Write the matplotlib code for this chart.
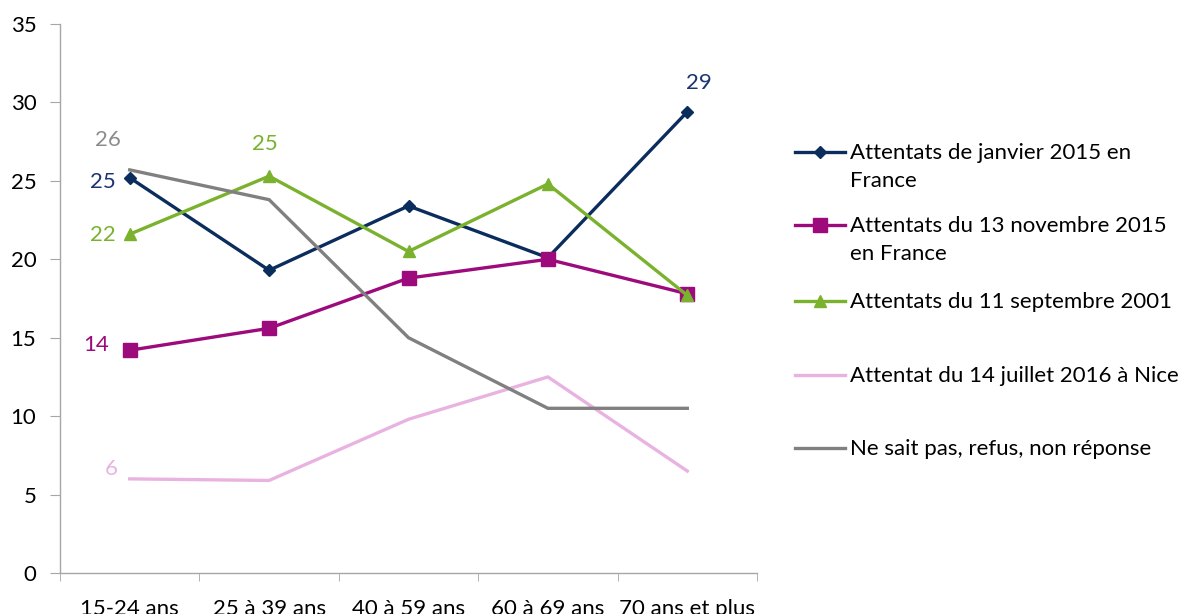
import numpy as np
import matplotlib
matplotlib.use("Agg")
import matplotlib.pyplot as plt
from matplotlib.lines import Line2D

plt.rcParams['font.family'] = ['Lato', 'DejaVu Sans']

ages = ["15-24 ans", "25 à 39 ans", "40 à 59 ans", "60 à 69 ans", "70 ans et plus"]
janvier_2015 = [25.2, 19.3, 23.4, 20.1, 29.4]
novembre_2015 = [14.2, 15.6, 18.8, 20.0, 17.8]
septembre_2001 = [21.6, 25.3, 20.5, 24.8, 17.7]
nice_2016 = [6.0, 5.9, 9.8, 12.5, 6.5]
nsp = [25.7, 23.8, 15.0, 10.5, 10.5]

names = ["Attentats de janvier 2015 en\nFrance",
         "Attentats du 13 novembre 2015\nen France",
         "Attentats du 11 septembre 2001",
         "Attentat du 14 juillet 2016 à Nice",
         "Ne sait pas, refus, non réponse"]
series = [janvier_2015, novembre_2015, septembre_2001, nice_2016, nsp]
colors = ["#0B2D5E", "#9C0A7C", "#7AB22E", "#E9B3E1", "#808080"]
label_colors = ["#1C3472", "#9C0A7C", "#7AB22E", "#E9B3E1", "#8C8C8C"]
markers = ["D", "s", "^", None, None]
msizes = [6, 10, 9, 0, 0]
FS = 16

fig = plt.figure(figsize=(11.81, 6.14), dpi=100)
ax = fig.add_axes([60/1181, 41/614, 697/1181, 549/614])
x = np.arange(len(ages))

for s, c, m, ms in zip(series, colors, markers, msizes):
    ax.plot(x, s, color=c, lw=2.4, marker=m, markersize=ms,
            markeredgecolor=c, solid_joinstyle='miter')

# data labels (only the ones shown in the reference)
def lab(i, j, dx, dy):
    ax.annotate(f"{round(series[i][j])}", (x[j], series[i][j]), xytext=(dx, dy),
                textcoords='offset pixels', ha='center', va='center',
                color=label_colors[i], fontsize=FS)

lab(0, 0, -27, -4)
lab(1, 0, -34, 5)
lab(2, 0, -27, -1)
lab(3, 0, -18, 10)
lab(4, 0, -22, 30)
lab(2, 1, -4, 32)
lab(0, 4, 12, 29)

ax.set_xlim(-0.5, 4.5)
ax.set_ylim(0, 35)
ax.set_yticks(np.arange(0, 36, 5))
ax.set_xticks(x)
ax.set_xticklabels(ages)
ax.set_xticks(np.arange(-0.5, 4.6, 1), minor=True)
ax.tick_params(axis='x', which='major', length=0, pad=19, labelsize=FS)
ax.tick_params(axis='x', which='minor', length=6, color='#A6A6A6', direction='out')
ax.tick_params(axis='y', length=7, color='#A6A6A6', pad=10, labelsize=FS)
for sp in ['top', 'right']:
    ax.spines[sp].set_visible(False)
for sp in ['left', 'bottom']:
    ax.spines[sp].set_color('#A6A6A6')
    ax.spines[sp].set_linewidth(1)

# legend drawn by hand so each handle sits on the first line of its label
leg_y = [152, 225, 301, 375, 448]
for n, c, m, ms, yy in zip(names, colors, markers, msizes, leg_y):
    yf = 1 - yy / 614
    fig.add_artist(Line2D([795/1181, 845/1181], [yf, yf], color=c, lw=2.4,
                          transform=fig.transFigure))
    if m:
        fig.add_artist(Line2D([820/1181], [yf], color=c, marker=m, markersize=ms,
                              markeredgecolor=c, transform=fig.transFigure))
    fig.text(850/1181, yf + 9/614, n, ha='left', va='top', fontsize=FS,
             linespacing=1.5, color='#000000')

fig.savefig("out.png", dpi=100)
